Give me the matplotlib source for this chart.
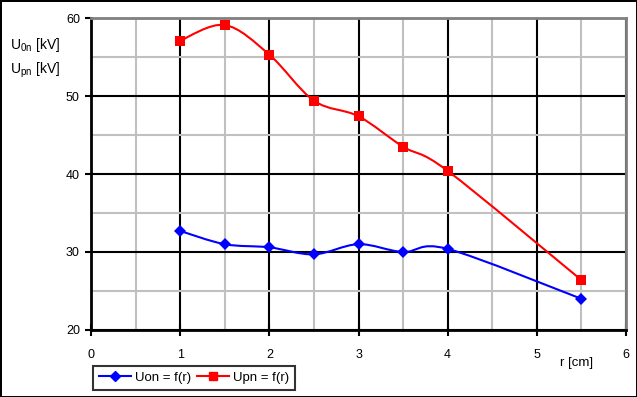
import numpy as np
import matplotlib.pyplot as plt
from matplotlib.path import Path
from matplotlib.patches import PathPatch
from matplotlib.lines import Line2D

plt.rcParams['font.family'] = ['Liberation Sans', 'DejaVu Sans']
plt.rcParams['font.size'] = 9

r = [1, 1.5, 2, 2.5, 3, 3.5, 4, 5.5]
u_on = [32.7, 31.0, 30.6, 29.7, 31.0, 30.0, 30.4, 24.0]
u_pn = [57.1, 59.1, 55.3, 49.4, 47.4, 43.5, 40.4, 26.4]


def smooth_path(x, y):
    # excel-like smoothed line: bezier through the points
    x = np.asarray(x, float)
    y = np.asarray(y, float)
    n = len(x)
    verts = [(x[0], y[0])]
    codes = [Path.MOVETO]
    for i in range(n - 1):
        p0 = np.array([x[max(i - 1, 0)], y[max(i - 1, 0)]])
        p1 = np.array([x[i], y[i]])
        p2 = np.array([x[i + 1], y[i + 1]])
        p3 = np.array([x[min(i + 2, n - 1)], y[min(i + 2, n - 1)]])
        c1 = p1 + (p2 - p0) / 6
        c2 = p2 - (p3 - p1) / 6
        verts += [tuple(c1), tuple(c2), tuple(p2)]
        codes += [Path.CURVE4] * 3
    return Path(verts, codes)


fig = plt.figure(figsize=(6.37, 3.97), dpi=100, linewidth=2, edgecolor='black')
ax = fig.add_axes([91 / 637, 1 - 330 / 397, 535 / 637, 312 / 397])

ax.set_xlim(0, 6)
ax.set_ylim(20, 60)
ax.set_xticks(range(0, 7))
ax.set_yticks(range(20, 61, 10))
ax.set_xticks(np.arange(0.5, 6, 1), minor=True)
ax.set_yticks(np.arange(25, 60, 10), minor=True)
ax.grid(which='major', color='black', linewidth=1.5, zorder=0)
ax.grid(which='minor', color='#c0c0c0', linewidth=1.5, zorder=0)
ax.tick_params(which='minor', length=0)
ax.tick_params(axis='x', which='major', direction='inout', length=8, width=1.5, pad=10)
ax.tick_params(axis='y', which='major', direction='out', length=4, width=1.5, pad=4)
for s in ['left', 'bottom']:
    ax.spines[s].set_linewidth(2)
for s in ['top', 'right']:
    ax.spines[s].set_color('#808080')
    ax.spines[s].set_linewidth(2)

for x, y, col, mk, ms in [(r, u_on, 'blue', 'D', 6), (r, u_pn, 'red', 's', 7)]:
    ax.add_patch(PathPatch(smooth_path(x, y), facecolor='none', edgecolor=col, lw=1.5, zorder=3))
    ax.plot(x, y, linestyle='none', marker=mk, color=col, markersize=ms, zorder=4,
            markeredgewidth=0)

fig.text(0.016, 1 - 45 / 397, r'U$_{\mathregular{0n}}$ [kV]', ha='left', va='center', fontsize=10)
fig.text(0.016, 1 - 70 / 397, r'U$_{\mathregular{pn}}$ [kV]', ha='left', va='center', fontsize=10)
fig.text(577 / 637, 1 - 363 / 397, 'r [cm]', ha='center', va='center', fontsize=9.5)

handles = [Line2D([], [], color='blue', marker='D', markersize=5, lw=1.5),
           Line2D([], [], color='red', marker='s', markersize=6, lw=1.5)]
leg = fig.legend(handles, ['Uon = f(r)', 'Upn = f(r)'], ncol=2, loc='lower left',
                 bbox_to_anchor=(93 / 637, 1 - 390 / 397), frameon=True, fancybox=False,
                 handlelength=2.4, handletextpad=0.3, columnspacing=0.5,
                 borderpad=0.45, borderaxespad=0, fontsize=9.5)
leg.get_frame().set_edgecolor('black')
leg.get_frame().set_linewidth(1.5)

fig.savefig('out.png', dpi=100)
